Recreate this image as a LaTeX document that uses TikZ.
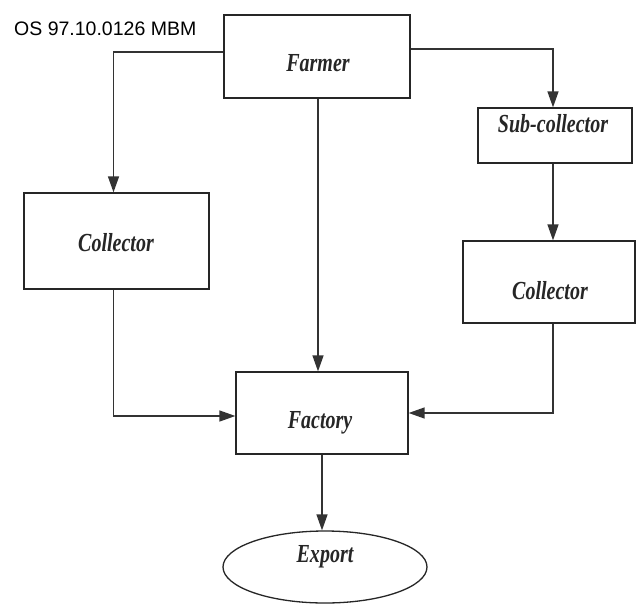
\documentclass[tikz,border=0pt]{standalone}
\usepackage{fontspec}
\setmainfont{Liberation Serif}
\newfontfamily\labfont{Liberation Serif}[FakeStretch=0.77]
\newfontfamily\osfont{Liberation Sans}
\usetikzlibrary{arrows.meta,shapes.geometric}
\begin{document}
\begin{tikzpicture}[x=1pt,y=-1pt,
  boxnode/.style={draw=black!85,line width=1.3pt,rectangle,inner sep=0pt},
  ovalnode/.style={draw=black!85,line width=1.3pt,ellipse,inner sep=0pt},
  labnode/.style={font=\labfont\bfseries\itshape\fontsize{26}{28}\selectfont,inner sep=0pt,text=black!85},
  arr/.style={draw=black!80,line width=1.4pt,-{Triangle[length=16pt,width=11pt]}}]
\useasboundingbox[fill=white] (0,0) rectangle (636,604);
\node[boxnode,minimum width=186pt,minimum height=83pt] (farmer) at (317,56.5) {};
\node[boxnode,minimum width=154pt,minimum height=55pt] (sub) at (555,135.5) {};
\node[boxnode,minimum width=185pt,minimum height=96pt] (colL) at (116.5,241) {};
\node[boxnode,minimum width=172pt,minimum height=82pt] (colR) at (549,282) {};
\node[boxnode,minimum width=172pt,minimum height=82pt] (factory) at (322,413) {};
\node[ovalnode,minimum width=204pt,minimum height=72pt] (export) at (325,567) {};
\node[labnode] (tfarmer) at (318,63) {Farmer};
\node[labnode] (tsub) at (553,124) {Sub-collector};
\node[labnode] (tcolL) at (116,243) {Collector};
\node[labnode] (tcolR) at (550,291) {Collector};
\node[labnode] (tfactory) at (320,423) {Factory};
\node[labnode] (texport) at (325,557) {Export};
\node[font=\osfont\fontsize{19.5}{21}\selectfont,anchor=base west,inner sep=0pt] (os) at (14,36) {OS 97.10.0126 MBM};
\draw[arr] ([yshift=4.5pt]farmer.west) -| ([xshift=-3pt]colL.north);
\draw[arr] ([yshift=7.5pt]farmer.east) -| ([xshift=-2pt]sub.north);
\draw[arr] ([xshift=1pt]farmer.south) -- ([xshift=1pt]farmer.south |- factory.north);
\draw[arr] ([xshift=-2pt]sub.south) -- ([xshift=-2pt]sub.south |- colR.north);
\draw[arr] ([xshift=-3pt]colL.south) |- ([yshift=-3pt]factory.west);
\draw[arr] ([xshift=4pt]colR.south) |- (factory.east);
\draw[arr] (factory.south) -- (factory.south |- export.north);
\end{tikzpicture}
\end{document}
